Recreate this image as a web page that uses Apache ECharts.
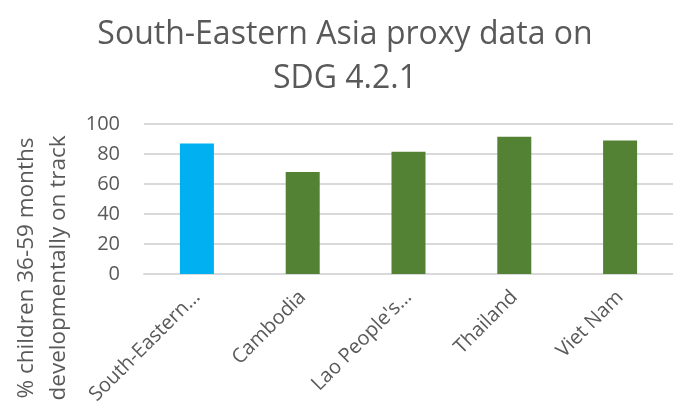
<!DOCTYPE html>
<html><head><meta charset="utf-8">
<script src="https://cdn.jsdelivr.net/npm/echarts@6/dist/echarts.min.js"></script>
<style>html,body{margin:0;padding:0;background:#fff}#c{width:673px;height:408px}</style>
</head><body><div id="c"></div>
<script>
var categories = ["South-Eastern…", "Cambodia", "Lao People's…", "Thailand", "Viet Nam"];
var values = [87, 68, 81.5, 91.5, 89];
var barColors = ["#00B0F0", "#548235", "#548235", "#548235", "#548235"];
var yTicks = {min: 0, max: 100, interval: 20};
var titleText = "South-Eastern Asia proxy data on\nSDG 4.2.1";
var yName = "% children 36-59 months\ndevelopmentally on track";

var font = "Open Sans";
var chart = echarts.init(document.getElementById('c'), null, {renderer: 'canvas'});
chart.setOption({
  animation: false,
  title: {
    text: titleText, top: 8, left: 340, textAlign: 'center',
    textStyle: {fontFamily: font, fontSize: 32, fontWeight: 'normal', color: '#595959', lineHeight: 44}
  },
  grid: {left: 144, width: 532, top: 124, bottom: 134, containLabel: false},
  xAxis: {
    type: 'category', data: categories,
    axisLine: {show: true, lineStyle: {color: '#D9D9D9', width: 2}},
    axisTick: {show: false},
    axisLabel: {rotate: 45, interval: 0, margin: 20, fontFamily: font, fontSize: 20, color: '#595959'}
  },
  yAxis: {
    type: 'value', min: yTicks.min, max: yTicks.max, interval: yTicks.interval,
    name: yName, nameLocation: 'middle', nameGap: 63, nameRotate: 90,
    nameTextStyle: {fontFamily: font, fontSize: 22.5, color: '#595959', lineHeight: 32, padding: [0,0,0,-138]},
    axisLine: {show: false}, axisTick: {show: false},
    axisLabel: {margin: 24, fontFamily: font, fontSize: 20, color: '#595959'},
    splitLine: {lineStyle: {color: '#D9D9D9', width: 2}}
  },
  series: [{
    type: 'bar', barWidth: 34,
    data: values.map(function(v, i){ return {value: v, itemStyle: {color: barColors[i]}}; })
  }]
});
</script></body></html>
